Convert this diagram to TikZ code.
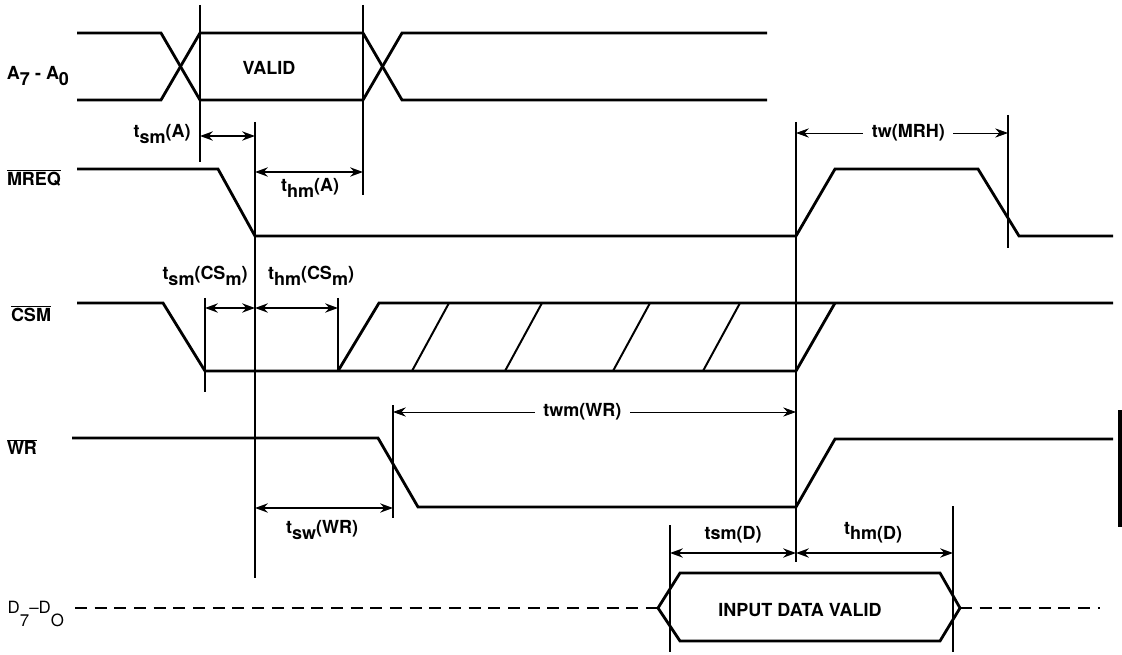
\documentclass[tikz,border=0pt]{standalone}
\usepackage{fontspec}
\setmainfont{TeX Gyre Heros}
\usetikzlibrary{arrows.meta, positioning, calc}
\newcommand{\lowsub}[1]{\raisebox{-0.55ex}{#1}}
\newcommand{\deepsub}[1]{\raisebox{-1.5ex}{#1}}
\newcommand{\barred}[1]{$\overline{\mbox{#1}}$}
\tikzset{
    sigline/.style={line width=2pt, line join=miter},
    markline/.style={line width=1.3pt},
    dimarrow/.style={{Stealth[length=3.2mm,width=2.3mm]}-{Stealth[length=3.2mm,width=2.3mm]},
                     line width=1.3pt},
    thindim/.style={{Stealth[length=3.2mm,width=2.3mm]}-{Stealth[length=3.2mm,width=2.3mm]},
                    line width=0.6pt},
    lbl/.style={font=\fontsize{12.8}{15}\selectfont\bfseries, inner sep=1pt},
    gaplbl/.style={lbl, fill=white, inner xsep=6pt},
    siglbl/.style={lbl, anchor=center},
}

\begin{document}
\begin{tikzpicture}[x=0.025cm, y=-0.025cm]
\useasboundingbox (0,0) rectangle (1122,655);

% --- signal names ---
\node[siglbl] (n-a) at (38,76) {A\lowsub{7} - A\lowsub{0}};
\node[siglbl] (n-mreq) at (34,178) {\barred{MREQ}};
\node[siglbl] (n-csm) at (31,314) {\barred{CSM}};
\node[siglbl] (n-wr) at (22,447) {\barred{WR}};
\node[lbl, anchor=west, font=\fontsize{12}{14}\selectfont] (n-d) at (6,614) {D\deepsub{7}--D\deepsub{O}};

% --- address bus ---
\draw[sigline] (77,33) -- (161,33) -- (200,100) -- (363,100) -- (402,33) -- (767,33);
\draw[sigline] (77,100) -- (161,100) -- (200,33) -- (363,33) -- (402,100) -- (767,100);
\node[lbl] (valid) at (269,68) {VALID};

% --- MREQ ---
\draw[sigline] (77,169) -- (218,169) -- (255,236) -- (796,236) -- (835,169)
    -- (978,169) -- (1019,236) -- (1113,236);

% --- CSM ---
\draw[sigline] (77,303) -- (163,303) -- (205,371) -- (796,371) -- (835,303);
\draw[sigline] (338,371) -- (379,303) -- (1113,303);
\foreach \x in {412,505,613,703}
    \draw[line width=1.4pt] (\x,371) -- ++(37,-68);

% --- WR ---
\draw[sigline] (72,438) -- (378,438) -- (418,507) -- (796,507) -- (835,439) -- (1113,439);
\draw[line width=2.6pt] (1120,410) -- (1120,527);

% --- data bus ---
\draw[sigline, dash pattern=on 8.5pt off 5.5pt] (75,608) -- (658,608);
\draw[sigline] (658,608) -- (680,573) -- (940,573) -- (960,608) -- (940,641)
    -- (680,641) -- cycle;
\draw[sigline, dash pattern=on 8.5pt off 5.5pt] (960,608) -- (1100,608);
\node[lbl] (dvalid) at (800,610) {INPUT DATA VALID};

% --- timing marks ---
\draw[markline] (200,5) -- (200,162);
\draw[markline] (363,5) -- (363,195);
\draw[markline] (255,122) -- (255,578);
\draw[markline] (796,122) -- (796,562);
\draw[markline] (1008,115) -- (1008,248);
\draw[markline] (205,298) -- (205,392);
\draw[markline] (338,298) -- (338,371);
\draw[markline] (393,405) -- (393,518);
\draw[markline] (670,525) -- (670,652);
\draw[markline] (953,506) -- (953,652);

\coordinate (tsmA-l) at (200,136);  \coordinate (tsmA-r) at (255,136);
\coordinate (thmA-l) at (255,172);  \coordinate (thmA-r) at (363,172);
\coordinate (tw-l) at (796,133);    \coordinate (tw-r) at (1008,133);
\coordinate (tsmC-l) at (205,308);  \coordinate (tsmC-r) at (255,308);
\coordinate (thmC-l) at (255,308);  \coordinate (thmC-r) at (338,308);
\coordinate (twm-l) at (393,412);   \coordinate (twm-r) at (796,412);
\coordinate (tsw-l) at (255,508);   \coordinate (tsw-r) at (393,508);
\coordinate (tsmD-l) at (670,553);  \coordinate (tsmD-r) at (796,553);
\coordinate (thmD-l) at (796,553);  \coordinate (thmD-r) at (953,553);

% --- dimension arrows ---
\draw[dimarrow] (tsmA-l) -- (tsmA-r);
\draw[dimarrow] (thmA-l) -- (thmA-r);
\draw[thindim] (tw-l) -- node[gaplbl, pos=0.53] (l-tw) {tw(MRH)} (tw-r);
\draw[dimarrow] (tsmC-l) -- (tsmC-r);
\draw[dimarrow] (thmC-l) -- (thmC-r);
\draw[thindim] (twm-l) -- node[gaplbl, pos=0.47] (l-twm) {twm(WR)} (twm-r);
\draw[dimarrow] (tsw-l) -- (tsw-r);
\draw[dimarrow] (tsmD-l) -- (tsmD-r);
\draw[dimarrow] (thmD-l) -- (thmD-r);

\node[lbl] (l-tsmA) at (162,134) {t\lowsub{sm}(A)};
\node[lbl] (l-thmA) at (310,188) {t\lowsub{hm}(A)};
\node[lbl] (l-tsmC) at (205,276) {t\lowsub{sm}(CS\lowsub{m})};
\node[lbl] (l-thmC) at (311,276) {t\lowsub{hm}(CS\lowsub{m})};
\node[lbl] (l-tsw) at (322,530) {t\lowsub{sw}(WR)};
\node[lbl] (l-tsmD) at (733,535) {tsm(D)};
\node[lbl] (l-thmD) at (873,533) {t\lowsub{hm(D)}};
\end{tikzpicture}
\end{document}
